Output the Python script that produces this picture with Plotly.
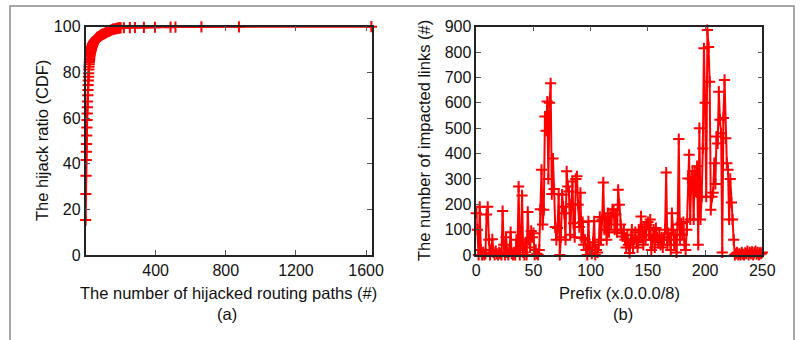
import plotly.graph_objects as go

# ---------------- data: panel (a) CDF ----------------
paths = [1, 2, 3, 4, 5, 6, 7, 8, 9, 10, 11, 12, 13, 14, 15, 16, 17, 18, 19, 20,
         21, 22, 23, 24, 25, 26, 27, 28, 29, 30, 31, 32, 33, 34, 35, 36, 37, 38, 39, 40,
         41, 42, 43, 44, 45, 46, 47, 48, 49, 50, 52, 54, 56, 58, 60, 62, 64, 66, 68, 70,
         72, 74, 76, 78, 80, 82, 84, 86, 88, 90, 92, 94, 96, 98, 100, 105, 110, 115, 120, 125,
         130, 135, 140, 145, 150, 155, 160, 165, 170, 175, 180, 185, 190, 195, 200, 219, 253, 282, 333, 396,
         485, 513, 661, 875, 1630]
ratio = [15.3, 26.7, 34.7, 41.6, 45.2, 48.6, 52.3, 55.9, 59.1, 62.0, 64.7, 67.2, 70.0, 72.3, 74.5, 76.4, 78.1, 79.6, 81.3, 82.5,
         83.5, 84.5, 85.4, 86.2, 87.0, 87.6, 88.1, 88.5, 88.9, 89.3, 89.6, 89.9, 90.2, 90.5, 90.8, 91.0, 91.3, 91.5, 91.7, 91.9,
         92.1, 92.3, 92.5, 92.7, 92.8, 93.0, 93.1, 93.3, 93.4, 93.6, 93.8, 94.0, 94.2, 94.4, 94.6, 94.7, 94.9, 95.0, 95.2, 95.3,
         95.4, 95.5, 95.6, 95.7, 95.8, 95.9, 96.0, 96.1, 96.2, 96.3, 96.4, 96.5, 96.6, 96.7, 96.8, 96.9, 97.1, 97.3, 97.5, 97.7,
         97.9, 98.1, 98.3, 98.5, 98.6, 98.8, 98.9, 99.0, 99.1, 99.2, 99.3, 99.35, 99.4, 99.45, 99.5, 99.55, 99.6, 99.65, 99.7, 99.75,
         99.8, 99.85, 99.9, 99.95, 100.0]

# ---------------- data: panel (b) impacted links per /8 prefix ----------------
prefix = list(range(0, 251))
links = [165, 100, 0, 190, 20, 0, 10, 0, 5, 160,
         190, 60, 0, 20, 62, 10, 0, 15, 5, 0,
         10, 5, 0, 173, 40, 0, 70, 10, 0, 20,
         90, 5, 0, 10, 0, 60, 20, 270, 0, 40,
         235, 10, 0, 50, 0, 170, 60, 30, 95, 70,
         86, 0, 20, 5, 0, 20, 180, 336, 120, 178,
         546, 490, 605, 300, 600, 677, 240, 380, 260, 110,
         60, 106, 240, 0, 70, 238, 190, 165, 60, 330,
         270, 250, 80, 200, 290, 125, 70, 300, 310, 198,
         110, 245, 67, 130, 40, 60, 20, 0, 133, 20,
         30, 5, 50, 133, 0, 20, 10, 40, 150, 60,
         140, 286, 100, 140, 60, 165, 90, 150, 120, 180,
         178, 100, 160, 90, 257, 198, 120, 86, 73, 100,
         60, 30, 80, 40, 8, 60, 100, 30, 62, 90,
         50, 30, 100, 70, 152, 73, 40, 110, 60, 120,
         130, 80, 140, 20, 60, 100, 30, 106, 70, 50,
         80, 40, 70, 30, 60, 100, 325, 40, 86, 60,
         20, 165, 100, 40, 80, 10, 120, 457, 60, 125,
         80, 130, 40, 20, 100, 302, 395, 140, 300, 330,
         140, 330, 250, 350, 40, 500, 140, 230, 420, 815,
         600, 230, 887, 820, 683, 178, 230, 245, 362, 280,
         467, 440, 644, 533, 480, 10, 540, 690, 460, 362,
         336, 140, 300, 207, 140, 60, 0, 5, 10, 0,
         5, 0, 10, 3, 0, 8, 5, 15, 0, 10,
         5, 12, 0, 8, 15, 3, 10, 0, 8, 5, 10]

yticks_a = [0, 20, 40, 60, 80, 100]
xticks_a = [400, 800, 1200, 1600]
yticks_b = [0, 100, 200, 300, 400, 500, 600, 700, 800, 900]
xticks_b = [0, 50, 100, 150, 200, 250]

W, H = 800, 340
FONT = "Liberation Sans, Arial, Helvetica, sans-serif"
RED = "#ff0000"


def fx(p):
    return p / W


def fy(p):
    return 1 - p / H


marker = dict(symbol="cross-thin", size=8, line=dict(color=RED, width=2))

fig = go.Figure()
fig.add_trace(go.Scatter(x=paths, y=ratio, mode="lines+markers",
                         line=dict(color=RED, width=2), marker=marker,
                         xaxis="x", yaxis="y", cliponaxis=False, showlegend=False))
fig.add_trace(go.Scatter(x=prefix, y=links, mode="lines+markers",
                         line=dict(color=RED, width=2), marker=marker,
                         xaxis="x2", yaxis="y2", cliponaxis=False, showlegend=False))

axis_common = dict(showline=True, linecolor="#222", linewidth=1.5, mirror="ticks",
                   ticks="inside", ticklen=5, tickcolor="#555", tickwidth=1,
                   showgrid=False, zeroline=False, automargin=False,
                   tickfont=dict(family=FONT, size=16, color="#111"))

fig.update_layout(
    template="none",
    width=W, height=H,
    margin=dict(l=0, r=0, t=0, b=0, pad=0),
    paper_bgcolor="white", plot_bgcolor="white",
    xaxis=dict(domain=[fx(85.5), fx(371.7)], range=[0, 1632], tickvals=xticks_a,
               anchor="y", **axis_common),
    yaxis=dict(domain=[fy(255), fy(26.7)], range=[0, 100], tickvals=yticks_a,
               anchor="x", **axis_common),
    xaxis2=dict(domain=[fx(476.3), fx(762.3)], range=[0, 250], tickvals=xticks_b,
                anchor="y2", **axis_common),
    yaxis2=dict(domain=[fy(255), fy(26.7)], range=[0, 900], tickvals=yticks_b,
                anchor="x2", **axis_common),
    shapes=[dict(type="rect", xref="paper", yref="paper",
                 x0=fx(10), x1=fx(794), y0=fy(380), y1=fy(6),
                 line=dict(color="#8a8a8a", width=1.5), fillcolor="rgba(0,0,0,0)",
                 layer="below")],
)

ann_font = dict(family=FONT, size=16.5, color="#111")
anns = [
    dict(text="The hijack ratio (CDF)", x=fx(42), y=fy(141), textangle=-90),
    dict(text="The number of hijacked routing paths (#)", x=fx(228.6), y=fy(293)),
    dict(text="(a)", x=fx(227), y=fy(314)),
    dict(text="The number of impacted links (#)", x=fx(424), y=fy(141), textangle=-90),
    dict(text="Prefix (x.0.0.0/8)", x=fx(619), y=fy(293)),
    dict(text="(b)", x=fx(623), y=fy(314)),
]
for a in anns:
    fig.add_annotation(xref="paper", yref="paper", showarrow=False,
                       xanchor="center", yanchor="middle", font=ann_font, **a)

fig.write_html("out.html", config={"displayModeBar": False},
               post_script="document.body.style.margin='0px';document.body.style.overflow='hidden';")
